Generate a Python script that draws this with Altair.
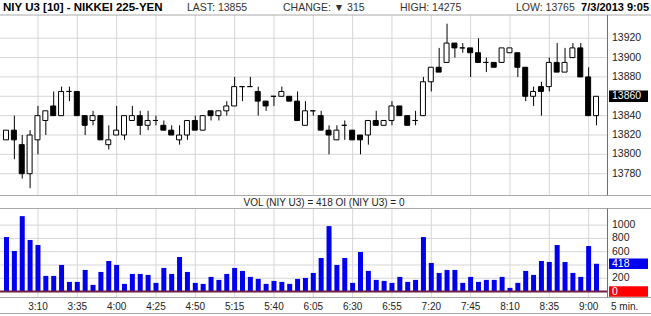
import altair as alt
import pandas as pd

# ---------------- data ----------------
opens = [13815, 13825, 13810, 13780, 13815, 13835, 13850, 13840, 13865, 13865,
         13840, 13835, 13840, 13810, 13820, 13820, 13835, 13840, 13830, 13835,
         13830, 13825, 13815, 13820, 13835, 13825, 13845, 13840, 13845, 13850,
         13870, 13870, 13865, 13855, 13860, 13860, 13860, 13855, 13830, 13845,
         13840, 13825, 13815, 13830, 13825, 13820, 13820, 13835, 13830, 13835,
         13850, 13840, 13835, 13840, 13875, 13890, 13895, 13915, 13910, 13910,
         13905, 13895, 13895, 13895, 13905, 13905, 13890, 13860, 13870, 13870,
         13895, 13885, 13900, 13910, 13880, 13840]
highs = [13825, 13840, 13820, 13825, 13850, 13845, 13865, 13870, 13870, 13865,
         13840, 13845, 13840, 13830, 13850, 13840, 13850, 13845, 13845, 13840,
         13835, 13830, 13830, 13835, 13840, 13840, 13845, 13845, 13855, 13880,
         13870, 13880, 13870, 13855, 13860, 13870, 13860, 13865, 13855, 13845,
         13845, 13830, 13830, 13835, 13825, 13820, 13835, 13845, 13835, 13855,
         13850, 13840, 13845, 13880, 13890, 13910, 13935, 13915, 13915, 13910,
         13920, 13900, 13895, 13910, 13910, 13905, 13890, 13870, 13875, 13900,
         13915, 13910, 13915, 13915, 13890, 13860]
lows = [13815, 13795, 13775, 13765, 13800, 13820, 13840, 13840, 13855, 13840,
        13820, 13830, 13815, 13805, 13820, 13815, 13835, 13820, 13825, 13830,
        13825, 13820, 13810, 13815, 13825, 13825, 13835, 13835, 13840, 13850,
        13855, 13870, 13840, 13845, 13850, 13860, 13855, 13835, 13830, 13840,
        13825, 13800, 13815, 13815, 13815, 13800, 13810, 13830, 13830, 13830,
        13840, 13830, 13830, 13840, 13865, 13885, 13895, 13900, 13905, 13880,
        13895, 13885, 13890, 13895, 13905, 13880, 13855, 13850, 13840, 13865,
        13885, 13885, 13900, 13880, 13840, 13830]
closes = [13825, 13815, 13780, 13820, 13840, 13845, 13840, 13865, 13865, 13840,
          13830, 13840, 13815, 13815, 13825, 13840, 13840, 13830, 13835, 13835,
          13825, 13820, 13820, 13835, 13825, 13840, 13840, 13845, 13850, 13870,
          13870, 13870, 13855, 13850, 13860, 13865, 13855, 13835, 13845, 13845,
          13825, 13820, 13825, 13830, 13815, 13815, 13835, 13830, 13835, 13850,
          13840, 13830, 13835, 13875, 13890, 13885, 13915, 13910, 13910, 13905,
          13895, 13895, 13890, 13910, 13910, 13890, 13860, 13865, 13865, 13895,
          13885, 13895, 13910, 13880, 13840, 13860]
volumes = [820, 610, 1135, 775, 700, 235, 235, 400, 145, 145,
           325, 100, 295, 460, 400, 115, 265, 265, 250, 130,
           355, 265, 520, 295, 130, 115, 220, 175, 265, 355,
           310, 220, 190, 115, 160, 145, 115, 190, 205, 280,
           505, 985, 400, 505, 130, 595, 310, 175, 160, 130,
           220, 145, 175, 820, 430, 280, 325, 325, 130, 220,
           145, 175, 175, 220, 55, 130, 310, 250, 460, 445,
           700, 445, 280, 220, 685, 418]

time_labels = ["3:10", "3:35", "4:00", "4:25", "4:50", "5:15", "5:40", "6:05",
               "6:30", "6:55", "7:20", "7:45", "8:10", "8:35", "9:00"]
label_bars = [4, 9, 14, 19, 24, 29, 34, 39, 44, 49, 54, 59, 64, 69, 74]
price_ticks = [13780, 13800, 13820, 13840, 13860, 13880, 13900, 13920]
vol_ticks = [200, 400, 600, 800, 1000]
last_price = 13860
last_vol = 418
last_oi = 0

title_text = "NIY U3 [10] - NIKKEI 225-YEN"
stat_texts = ["LAST: 13855", "CHANGE: \u25bc 315", "HIGH: 14275", "LOW: 13765"]
date_text = "7/3/2013 9:05"
vol_caption = "VOL (NIY U3) = 418 OI (NIY U3) = 0"
interval_text = "5 min."

# ---------------- layout ----------------
W, H = 651, 316
AX = 607            # right axis line
P_TOP, P_BOT = 15, 195
V_TOP, V_BOT = 208.5, 297.5
FONT = "Liberation Sans"

bars = pd.DataFrame({"i": list(range(len(opens))), "o": opens, "h": highs,
                     "l": lows, "c": closes, "v": volumes})

xs = alt.Scale(domain=[0, len(opens) - 1], range=[1, 601], nice=False, zero=False)
ps = dict(domain=[13758, 13944], range=[P_BOT, P_TOP], nice=False, zero=False)
vs = dict(domain=[-90, 1250], range=[V_BOT, V_TOP], nice=False, zero=False)


def X(f):
    return alt.X(f, type="quantitative", scale=xs, axis=None)


def PY(f):
    return alt.Y(f, type="quantitative", scale=alt.Scale(**ps), axis=None)


def VY(f):
    return alt.Y(f, type="quantitative", scale=alt.Scale(**vs), axis=None)


def one(t):
    return pd.DataFrame({"t": [t]})


layers = []

# grid lines
pgrid = pd.DataFrame({"p": price_ticks})
layers.append(alt.Chart(pgrid).mark_rule(color="#d6d6d6", strokeWidth=1).encode(
    y=PY("p"), x=alt.value(0), x2=alt.value(AX)))
vgrid = pd.DataFrame({"vv": vol_ticks})
layers.append(alt.Chart(vgrid).mark_rule(color="#d6d6d6", strokeWidth=1).encode(
    y=VY("vv"), x=alt.value(0), x2=alt.value(AX)))
xgrid = pd.DataFrame({"i": label_bars, "lab": time_labels})
layers.append(alt.Chart(xgrid).mark_rule(color="#d6d6d6", strokeWidth=1, xOffset=0.5).encode(
    x=X("i"), y=alt.value(P_TOP), y2=alt.value(P_BOT)))
layers.append(alt.Chart(xgrid).mark_rule(color="#d6d6d6", strokeWidth=1, xOffset=0.5).encode(
    x=X("i"), y=alt.value(V_TOP), y2=alt.value(V_BOT)))

# frame lines
for yy in [P_TOP, P_BOT + 0.5, V_TOP, V_BOT, 313.5]:
    layers.append(alt.Chart(one("")).mark_rule(color="#a8a8a8", strokeWidth=1).encode(
        x=alt.value(0), x2=alt.value(W), y=alt.value(yy)))
for (y1, y2) in [(P_TOP, P_BOT + 0.5), (V_TOP, V_BOT)]:
    layers.append(alt.Chart(one("")).mark_rule(color="#707070", strokeWidth=1).encode(
        x=alt.value(AX + 0.5), y=alt.value(y1), y2=alt.value(y2)))

# candlesticks
base = alt.Chart(bars)
layers.append(base.mark_rule(color="black", strokeWidth=1, xOffset=0.5).encode(
    x=X("i"), y=PY("l"), y2=alt.Y2("h")))
layers.append(base.mark_bar(size=5, stroke="black", strokeWidth=1).encode(
    x=X("i"), y=PY("o"), y2=alt.Y2("c"),
    fill=alt.condition("datum.c < datum.o", alt.value("black"), alt.value("white"))))

# volume
layers.append(base.mark_bar(size=5, color="#0000f0", xOffset=0.5).encode(
    x=X("i"), y=VY("v"), y2=alt.Y2(datum=0)))
layers.append(alt.Chart(one("")).mark_rule(color="#6e1f46", strokeWidth=2).encode(
    x=alt.value(0), x2=alt.value(AX), y=VY("z")).transform_calculate(z="0"))

# price axis labels
layers.append(alt.Chart(pgrid).mark_text(align="left", baseline="middle", font=FONT,
                                         fontSize=10.5, color="#222222").encode(
    x=alt.value(612), y=PY("p"), text=alt.Text("p:Q", format="d")))
lp = pd.DataFrame({"p": [last_price]})
layers.append(alt.Chart(lp).transform_calculate(a="datum.p + 6", b="datum.p - 6").mark_rect(
    color="black").encode(x=alt.value(609), x2=alt.value(648), y=PY("a"), y2=alt.Y2("b")))
layers.append(alt.Chart(lp).mark_text(align="left", baseline="middle", font=FONT,
                                      fontSize=10.5, color="white").encode(
    x=alt.value(612), y=PY("p"), text=alt.Text("p:Q", format="d")))

# volume axis labels
layers.append(alt.Chart(vgrid).mark_text(align="left", baseline="middle", font=FONT,
                                         fontSize=10.5, color="#222222").encode(
    x=alt.value(612), y=VY("vv"), text=alt.Text("vv:Q", format="d")))
boxes = pd.DataFrame({"vv": [last_vol, last_oi], "col": ["#0000f0", "#ff0000"]})
layers.append(alt.Chart(boxes).transform_calculate(a="datum.vv + 80", b="datum.vv - 80").mark_rect().encode(
    x=alt.value(609), x2=alt.value(648), y=VY("a"), y2=alt.Y2("b"),
    color=alt.Color("col:N", scale=None)))
layers.append(alt.Chart(boxes).mark_text(align="left", baseline="middle", font=FONT,
                                         fontSize=10.5, color="white").encode(
    x=alt.value(612), y=VY("vv"), text=alt.Text("vv:Q", format="d")))

# x labels
layers.append(alt.Chart(xgrid).mark_text(align="center", baseline="middle", font=FONT,
                                         fontSize=10, color="#222222", xOffset=0.5).encode(
    x=X("i"), y=alt.value(306.5), text="lab:N"))
layers.append(alt.Chart(one(interval_text)).mark_text(align="left", baseline="middle", font=FONT,
                                                      fontSize=10, color="#222222").encode(
    x=alt.value(611), y=alt.value(306.5), text="t:N"))

# volume caption
layers.append(alt.Chart(one(vol_caption)).mark_text(align="center", baseline="middle", font=FONT,
                                                    fontSize=10, color="#222222").encode(
    x=alt.value(324), y=alt.value(202.5), text="t:N"))

# header
layers.append(alt.Chart(one(title_text)).mark_text(
    align="left", baseline="middle", font=FONT,
    fontSize=11.5, fontWeight="bold", color="black").encode(
    x=alt.value(3), y=alt.value(7.5), text="t:N"))
for t, xx in zip(stat_texts, [187, 283, 400, 516]):
    layers.append(alt.Chart(one(t)).mark_text(
        align="left", baseline="middle", font=FONT, fontSize=10.5, color="#333333").encode(
        x=alt.value(xx), y=alt.value(8), text="t:N"))
layers.append(alt.Chart(one(date_text)).mark_text(
    align="right", baseline="middle", font=FONT,
    fontSize=11, fontWeight="bold", color="black").encode(
    x=alt.value(649), y=alt.value(7.5), text="t:N"))

chart = alt.layer(*layers).resolve_scale(y="independent").properties(
    width=W, height=H, padding=0, autosize=alt.AutoSizeParams(type="none"),
    background="white"
).configure_view(stroke=None)

chart.save("out.html", embed_options={"renderer": "svg", "actions": False})
